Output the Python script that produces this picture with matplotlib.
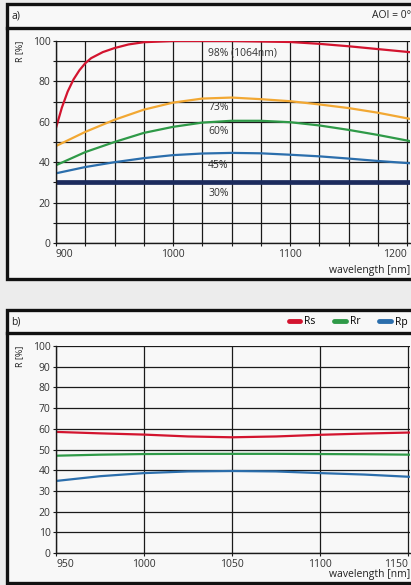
import matplotlib
matplotlib.use('Agg')
import matplotlib.pyplot as plt
from matplotlib.patches import Rectangle
from matplotlib.lines import Line2D

plt.rcParams['font.family'] = ['Open Sans', 'DejaVu Sans']

# panel a) - reflectance of the different coatings
wl_a = [900, 925, 950, 975, 1000, 1025, 1050, 1075, 1100, 1125, 1150, 1175, 1202]
wl_red = [900, 905, 910, 915, 920, 925, 930, 940, 950, 962, 975, 1000, 1050, 1100, 1125, 1150, 1175, 1202]
r98 = [57, 67, 75, 81, 85.5, 89, 91.5, 94.5, 96.5, 98.3, 99.4, 100, 100, 99.5, 98.6, 97.4, 96, 94.5]
r73 = [48, 55, 61, 66, 69.5, 71.5, 72, 71.2, 70.2, 68.6, 66.8, 64.5, 61.5]
r60 = [38.5, 45, 50, 54.5, 57.5, 59.6, 60.5, 60.5, 59.8, 58.2, 56, 53.5, 50.5]
r45 = [34.5, 37.6, 40, 42, 43.5, 44.3, 44.6, 44.4, 43.7, 42.9, 41.8, 40.6, 39.5]
r30 = [30] * len(wl_a)
labels_a = ['98% (1064nm)', '73%', '60%', '45%', '30%']
label_y = [94, 67, 55, 38.5, 24.5]

# panel b) - Rs / Rr / Rp
wl_b = [950, 975, 1000, 1025, 1050, 1075, 1100, 1125, 1151]
rs = [58.5, 57.8, 57.2, 56.3, 55.9, 56.3, 57.1, 57.7, 58.2]
rr = [47, 47.5, 47.8, 47.9, 47.9, 47.9, 47.8, 47.7, 47.5]
rp = [34.8, 37.1, 38.6, 39.4, 39.6, 39.4, 38.6, 37.9, 36.8]
names_b = ['Rs', 'Rr', 'Rp']

RED, ORANGE, GREEN, BLUE, NAVY = '#d3142f', '#f2a833', '#2f9a48', '#2b6eac', '#1c2b5d'

W, H = 411, 585
fig = plt.figure(figsize=(W / 100, H / 100), dpi=100, facecolor='#ececec')


def fx(px):
    return px / W


def fy(py):
    return 1 - py / H


def frame(top, bottom, divider):
    fig.patches.append(Rectangle((fx(7), fy(bottom)), fx(430) - fx(7), fy(top) - fy(bottom),
                                 transform=fig.transFigure, facecolor='#f8f8f8',
                                 edgecolor='#111111', lw=2.4, zorder=-5))
    fig.lines.append(Line2D([fx(7), 1.0], [fy(divider), fy(divider)],
                            transform=fig.transFigure, color='#111111', lw=2.4))


frame(4, 279, 28)
frame(310, 583, 333)

fig.text(fx(11), fy(16), 'a)', fontsize=7.5, va='center', color='#222222')
fig.text(fx(411), fy(16), 'AOI = 0°', fontsize=7.5, va='center', ha='right', color='#222222')
fig.text(fx(11), fy(322), 'b)', fontsize=7.5, va='center', color='#222222')


def style(ax, xmin, xmax, xmajor, xgrid, yticks, ygrid, xlab_y):
    ax.set_facecolor('#f8f8f8')
    ax.set_xlim(xmin, xmax)
    ax.set_ylim(0, 100)
    ax.set_xticks(xmajor)
    ax.set_xticks(xgrid, minor=True)
    ax.set_yticks(yticks)
    ax.set_yticks(ygrid, minor=True)
    ax.grid(True, which='both', color='#1a1a1a', lw=0.9)
    for s in ['top', 'right']:
        ax.spines[s].set_visible(False)
    for s in ['left', 'bottom']:
        ax.spines[s].set_color('#1a1a1a')
        ax.spines[s].set_linewidth(1.0)
    ax.tick_params(which='both', length=2, width=0.8, labelsize=7.5, colors='#1a1a1a',
                   labelcolor='#333333', pad=2)
    labs = ax.get_xticklabels()
    labs[0].set_ha('left')
    labs[-1].set_ha('right')
    ax.set_axisbelow(True)
    ax.text(-0.102, 1.0, 'R [%]', transform=ax.transAxes, rotation=90, fontsize=6.5,
            ha='center', va='top', color='#222222')
    ax.text(1.0, xlab_y, 'wavelength [nm]', transform=ax.transAxes, fontsize=7.5,
            ha='right', va='center', color='#222222')


# panel a
ax1 = fig.add_axes([fx(56), fy(243), fx(410) - fx(56), fy(41) - fy(243)])
ax1.plot(wl_red, r98, color=RED, lw=1.6)
ax1.plot(wl_a, r73, color=ORANGE, lw=1.6)
ax1.plot(wl_a, r60, color=GREEN, lw=1.6)
ax1.plot(wl_a, r45, color=BLUE, lw=1.6)
ax1.plot(wl_a, r30, color=NAVY, lw=3.4)
for t, y in zip(labels_a, label_y):
    ax1.text(1030, y, t, fontsize=7.5, color='#333333', va='center', ha='left')
style(ax1, 900, 1202.5, [900, 1000, 1100, 1200], list(range(900, 1201, 25)),
      [0, 20, 40, 60, 80, 100], list(range(0, 101, 10)), -0.134)

# panel b
ax2 = fig.add_axes([fx(56), fy(553), fx(410) - fx(56), fy(346) - fy(553)])
ax2.plot(wl_b, rs, color=RED, lw=1.6)
ax2.plot(wl_b, rr, color=GREEN, lw=1.6)
ax2.plot(wl_b, rp, color=BLUE, lw=1.6)
style(ax2, 950, 1151, [950, 1000, 1050, 1100, 1150], [950, 1000, 1050, 1100, 1150],
      list(range(0, 101, 10)), list(range(0, 101, 10)), -0.106)

handles = [Line2D([], [], color=c, lw=3.5, solid_capstyle='round') for c in (RED, GREEN, BLUE)]
fig.legend(handles, names_b, loc='center right', bbox_to_anchor=(fx(413), fy(322)), ncol=3,
           frameon=False, fontsize=7.5, handlelength=1.1, handletextpad=0.4,
           columnspacing=1.8, borderpad=0)

fig.savefig('out.png', dpi=100, facecolor=fig.get_facecolor())
